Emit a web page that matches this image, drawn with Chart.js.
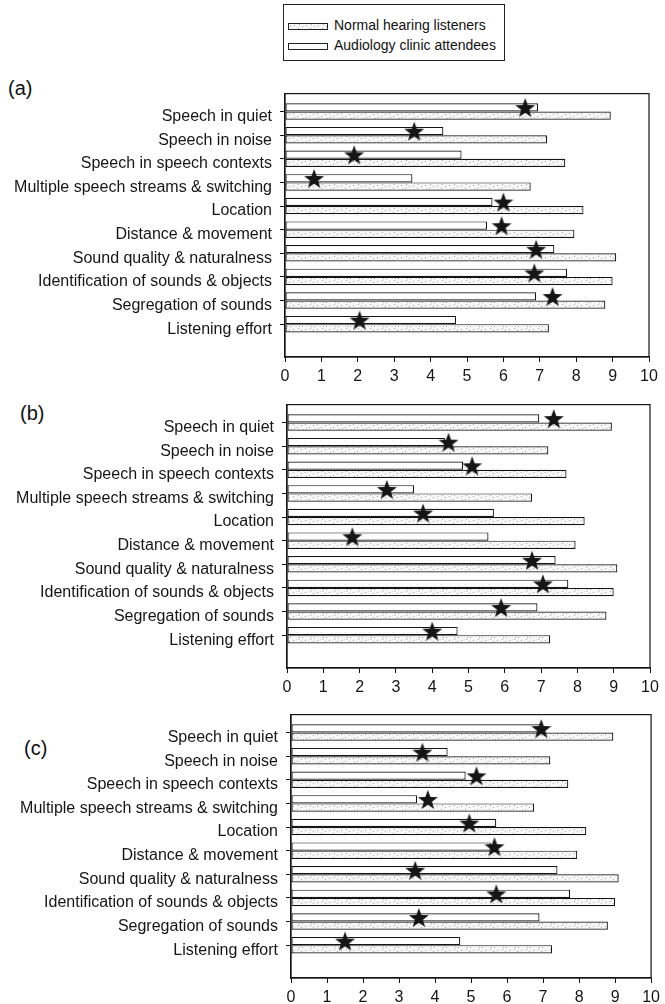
<!DOCTYPE html>
<html>
<head>
<meta charset="utf-8">
<script src="https://cdn.jsdelivr.net/npm/chart.js@4.4.1/dist/chart.umd.min.js"></script>
<style>
  body { margin: 0; background: #fff; font-family: "Liberation Sans", Arial, sans-serif; color: #111; }
  #page { position: relative; width: 665px; height: 1004px; overflow: hidden; }
  canvas { position: absolute; left: 0; }
  .tag { position: absolute; font-size: 20px; line-height: 20px; }
  #legend { position: absolute; left: 283px; top: 4px; width: 222px; height: 57px; border: 1px solid #222; box-sizing: border-box; }
  .item { position: absolute; left: 4px; font-size: 14px; line-height: 16px; }
  .swatch { display: inline-block; width: 40px; height: 7px; border: 1px solid #222; box-sizing: border-box; vertical-align: middle; margin-right: 6px; background: #fff; }
</style>
</head>
<body>
<div id="page">
  <div id="legend">
    <div class="item" style="top:12px"><span class="swatch" id="sw-normal"></span>Normal hearing listeners</div>
    <div class="item" style="top:32px"><span class="swatch"></span>Audiology clinic attendees</div>
  </div>
  <div class="tag" style="left:8px; top:78px">(a)</div>
  <div class="tag" style="left:20px; top:403px">(b)</div>
  <div class="tag" style="left:24px; top:738px">(c)</div>
  <canvas id="chart-a"></canvas>
  <canvas id="chart-b"></canvas>
  <canvas id="chart-c"></canvas>
</div>
<script>
// Data
const categories = [
  'Speech in quiet',
  'Speech in noise',
  'Speech in speech contexts',
  'Multiple speech streams & switching',
  'Location',
  'Distance & movement',
  'Sound quality & naturalness',
  'Identification of sounds & objects',
  'Segregation of sounds',
  'Listening effort'
];
const clinicAttendees = [6.95, 4.35, 4.85, 3.5, 5.7, 5.55, 7.4, 7.75, 6.9, 4.7];
const normalHearing = [8.95, 7.2, 7.7, 6.75, 8.2, 7.95, 9.1, 9.0, 8.8, 7.25];
const starsA = [6.6, 3.55, 1.9, 0.8, 6.0, 5.95, 6.9, 6.85, 7.35, 2.05];
const starsB = [7.35, 4.45, 5.1, 2.75, 3.75, 1.8, 6.75, 7.05, 5.9, 4.0];
const starsC = [6.95, 3.65, 5.15, 3.8, 4.95, 5.65, 3.45, 5.7, 3.55, 1.5];
const xTicks = [0, 1, 2, 3, 4, 5, 6, 7, 8, 9, 10];

const FONT = '"Liberation Sans", Arial, sans-serif';
const INK = '#151515';

// Speckled fill for the normal hearing bars
const speck = document.createElement('canvas');
speck.width = 12; speck.height = 12;
const sctx = speck.getContext('2d');
sctx.fillStyle = '#f7f7f7';
sctx.fillRect(0, 0, 12, 12);
sctx.fillStyle = '#a8a8a8';
[[1, 2], [5, 1], [9, 4], [3, 6], [7, 8], [11, 10], [2, 10], [6, 5], [10, 0]].forEach(([x, y]) => sctx.fillRect(x, y, 1, 1));
const speckPattern = sctx.createPattern(speck, 'repeat');
document.getElementById('sw-normal').style.background = `url(${speck.toDataURL()})`;

// Filled five-point star marker
const star = document.createElement('canvas');
star.width = 22; star.height = 22;
const st = star.getContext('2d');
st.fillStyle = INK;
st.beginPath();
for (let k = 0; k < 10; k++) {
  const r = k % 2 === 0 ? 10.5 : 4.3;
  const a = -Math.PI / 2 + k * Math.PI / 5;
  st.lineTo(11 + r * Math.cos(a), 11.5 + r * Math.sin(a));
}
st.closePath();
st.fill();

// Frame round the plot area
const framePlugin = {
  id: 'frame',
  afterDraw(chart) {
    const { ctx, chartArea: a } = chart;
    ctx.save();
    ctx.strokeStyle = INK;
    ctx.lineWidth = 1.2;
    ctx.strokeRect(a.left, a.top, a.right - a.left, a.bottom - a.top);
    ctx.restore();
  }
};

function makePanel(id, stars, g) {
  const canvas = document.getElementById(id);
  const padTop = 16;
  const axisH = 30;
  canvas.width = 665;
  canvas.height = g.bottom - g.top + padTop + axisH;
  canvas.style.top = (g.top - padTop) + 'px';

  new Chart(canvas, {
    type: 'bar',
    data: {
      datasets: [
        {
          label: 'Audiology clinic attendees',
          data: clinicAttendees.map((v, i) => ({ x: v, y: i })),
          backgroundColor: '#ffffff',
          borderColor: INK,
          borderWidth: 1.2,
          borderSkipped: false,
          categoryPercentage: 0.7,
          barPercentage: 1,
          order: 1
        },
        {
          label: 'Normal hearing listeners',
          data: normalHearing.map((v, i) => ({ x: v, y: i })),
          backgroundColor: speckPattern,
          borderColor: INK,
          borderWidth: 1.2,
          borderSkipped: false,
          categoryPercentage: 0.7,
          barPercentage: 1,
          order: 1
        },
        {
          type: 'scatter',
          label: 'Individual',
          data: stars.map((v, i) => ({ x: v, y: i - 0.15 })),
          pointStyle: star,
          order: 0
        }
      ]
    },
    plugins: [framePlugin],
    options: {
      responsive: false,
      animation: false,
      indexAxis: 'y',
      layout: { padding: { top: padTop, right: 665 - g.right, left: 0, bottom: 0 } },
      plugins: { legend: { display: false }, tooltip: { enabled: false } },
      scales: {
        x: {
          type: 'linear',
          min: 0,
          max: 10,
          afterBuildTicks: s => { s.ticks = xTicks.map(v => ({ value: v })); },
          afterFit: s => { s.height = axisH; },
          grid: { drawOnChartArea: false, tickLength: 5, color: INK },
          border: { color: INK, width: 1.2 },
          ticks: { color: INK, padding: 5, font: { family: FONT, size: 16 } }
        },
        y: {
          type: 'linear',
          reverse: true,
          offset: false,
          min: -0.76,
          max: 10.39,
          afterBuildTicks: s => { s.ticks = categories.map((c, i) => ({ value: i })); },
          afterFit: s => { s.width = g.left; },
          grid: { drawOnChartArea: false, offset: false, tickLength: 5, color: INK },
          border: { color: INK, width: 1.2 },
          ticks: {
            color: INK,
            padding: 8,
            labelOffset: 5,
            font: { family: FONT, size: 16 },
            callback: v => categories[v]
          }
        }
      }
    }
  });
}

makePanel('chart-a', starsA, { top: 92, bottom: 357, left: 285, right: 649 });
makePanel('chart-b', starsB, { top: 403, bottom: 668, left: 287, right: 650 });
makePanel('chart-c', starsC, { top: 713, bottom: 978, left: 291, right: 653 });
</script>
</body>
</html>
